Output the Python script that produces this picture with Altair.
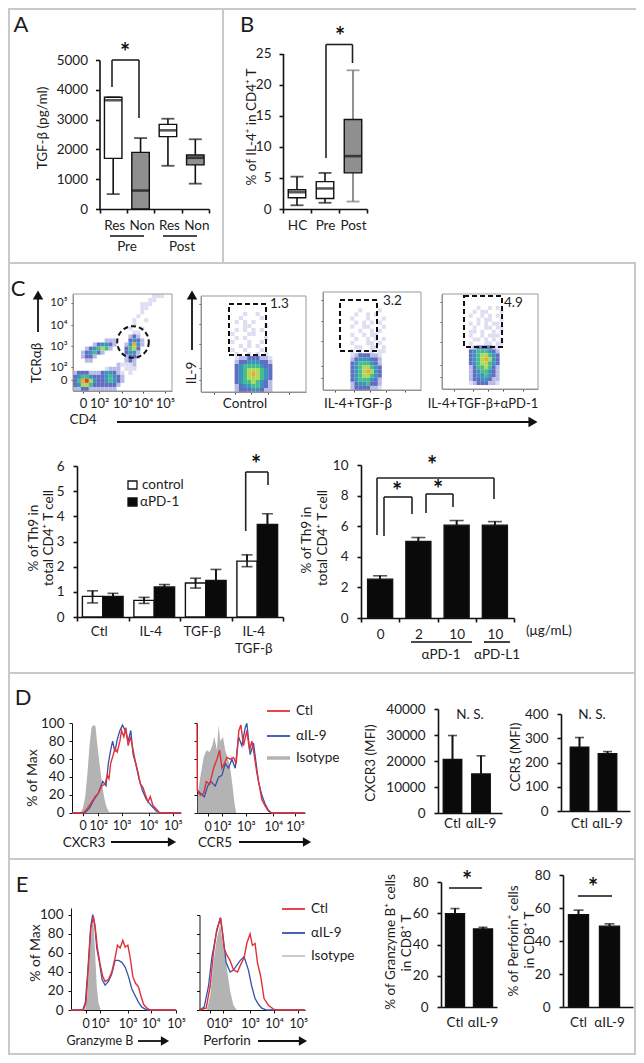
import altair as alt
import pandas as pd

W, H = 628, 1047
FONT = "Lato, 'Noto Sans', sans-serif"
INK = "#1c1c1c"
ONE = pd.DataFrame({"a": [0]})

# ---------- box plots ----------
A_CATS = ["Res", "Non", "Res ", "Non "]
A_LO = [500, 0, 1450, 850]
A_Q1 = [1700, 0, 2430, 1480]
A_MED = [3650, 620, 2640, 1720]
A_Q3 = [3750, 1900, 2840, 1810]
A_HI = [3750, 2380, 3030, 2340]
A_FILL = ["#ffffff", "#8f8f8f", "#ffffff", "#8f8f8f"]
A_WH = ["#111111", "#111111", "#111111", "#111111"]
B_CATS = ["HC", "Pre", "Post"]
B_LO = [0.6, 1.0, 1.2]
B_Q1 = [1.8, 1.7, 5.8]
B_MED = [2.7, 3.3, 8.5]
B_Q3 = [3.1, 4.4, 14.4]
B_HI = [5.2, 5.8, 22.3]
B_FILL = ["#ffffff", "#ffffff", "#8f8f8f"]
B_WH = ["#111111", "#111111", "#777777"]

# ---------- bar charts ----------
C1_CATS = ["Ctl", "IL-4", "TGF-β", "IL-4 TGF-β"]
C1_CTRL = [0.82, 0.66, 1.35, 2.22]
C1_CTRL_UP = [1.04, 0.78, 1.54, 2.47]
C1_CTRL_LOW = [0.56, 0.54, 1.15, 2.0]
C1_PD = [0.82, 1.19, 1.45, 3.68]
C1_PD_UP = [0.94, 1.29, 1.89, 4.1]
C2_CATS = ["0", "2", "10", "10 "]
C2_VAL = [2.54, 5.0, 6.07, 6.07]
C2_UP = [2.76, 5.26, 6.37, 6.3]
TWO = ["Ctl", "αIL-9"]
D1_VAL, D1_UP = [20600, 15000], [29800, 22000]
D2_VAL, D2_UP = [263, 236], [303, 245]
E1_VAL, E1_UP = [59.7, 50], [63, 51]
E2_VAL, E2_UP = [56, 49], [58.7, 50.4]

# ---------- histograms (x: channel, y: % of max) ----------
D1_ISO_X = [240, 248, 255, 262, 268, 274, 280, 286, 290, 296, 300, 306, 312, 318, 325, 330]
D1_ISO_Y = [0, 5, 18, 45, 75, 95, 98, 97, 82, 62, 50, 32, 18, 8, 2, 0]
D1_RED_X = [215, 250, 262, 275, 285, 295, 305, 315, 322, 327, 332, 340, 345, 352, 360, 365, 372, 378, 385, 392, 400, 408, 415, 422, 430, 437, 445, 452, 460, 468, 480, 545]
D1_RED_Y = [0, 0, 5, 12, 18, 22, 30, 32, 42, 38, 55, 65, 72, 68, 80, 92, 85, 95, 75, 85, 70, 55, 45, 32, 28, 20, 12, 18, 8, 5, 0, 0]
D1_BLUE_X = [215, 255, 268, 282, 295, 308, 318, 325, 332, 338, 345, 352, 360, 368, 378, 385, 393, 400, 408, 418, 428, 440, 455, 470, 480, 545]
D1_BLUE_Y = [0, 0, 5, 15, 22, 35, 30, 55, 70, 80, 68, 82, 92, 98, 90, 80, 92, 65, 55, 38, 25, 15, 8, 2, 0, 0]
D2_ISO_X = [592, 600, 610, 618, 628, 636, 642, 650, 655, 660, 668, 675, 682, 690, 697, 703, 708]
D2_ISO_Y = [20, 40, 62, 70, 68, 75, 85, 70, 98, 80, 85, 70, 62, 50, 30, 10, 0]
D2_RED_X = [590, 591, 600, 610, 618, 628, 640, 650, 658, 665, 672, 680, 690, 700, 708, 716, 722, 730, 740, 748, 755, 762, 770, 778, 785, 795, 805, 815, 915]
D2_RED_Y = [100, 25, 20, 22, 35, 32, 50, 60, 70, 50, 55, 62, 60, 62, 55, 92, 98, 75, 92, 70, 80, 65, 45, 30, 15, 8, 2, 0, 0]
D2_BLUE_X = [592, 600, 612, 622, 632, 645, 655, 665, 675, 685, 695, 705, 715, 725, 735, 740, 750, 760, 768, 775, 785, 795, 805, 815, 915]
D2_BLUE_Y = [25, 22, 18, 30, 35, 30, 40, 42, 55, 50, 60, 50, 85, 75, 95, 100, 65, 78, 55, 35, 20, 10, 3, 0, 0]
E1_ISO_X = [255, 262, 268, 274, 280, 285, 290, 295, 302]
E1_ISO_Y = [0, 15, 55, 85, 95, 60, 25, 8, 0]
E1_RED_X = [213, 250, 258, 265, 272, 280, 286, 292, 300, 308, 315, 325, 335, 345, 352, 360, 368, 375, 383, 390, 398, 406, 415, 422, 430, 440, 450, 527]
E1_RED_Y = [0, 0, 8, 45, 85, 98, 85, 65, 48, 35, 30, 32, 40, 55, 68, 65, 73, 66, 68, 55, 35, 28, 24, 15, 6, 2, 0, 0]
E1_BLUE_X = [213, 248, 256, 264, 272, 278, 284, 290, 298, 306, 315, 325, 335, 345, 355, 365, 375, 385, 395, 405, 415, 425, 440, 527]
E1_BLUE_Y = [0, 0, 8, 45, 88, 100, 90, 65, 50, 32, 26, 30, 38, 52, 52, 50, 45, 35, 22, 15, 8, 3, 0, 0]
E2_ISO_X = [620, 630, 640, 650, 660, 668, 678, 690, 700, 710]
E2_ISO_Y = [0, 15, 50, 75, 90, 70, 50, 20, 5, 0]
E2_RED_X = [598, 618, 630, 640, 650, 662, 672, 680, 690, 700, 712, 722, 732, 740, 750, 757, 765, 772, 782, 792, 805, 820, 830, 915]
E2_RED_Y = [0, 2, 25, 60, 85, 97, 65, 58, 52, 42, 40, 48, 55, 70, 80, 68, 70, 50, 35, 12, 5, 1, 0, 0]
E2_BLUE_X = [598, 612, 625, 635, 648, 660, 668, 678, 690, 700, 712, 720, 732, 745, 755, 765, 775, 785, 800, 915]
E2_BLUE_Y = [0, 3, 25, 55, 80, 97, 80, 50, 40, 42, 48, 52, 56, 42, 25, 12, 6, 2, 0, 0]
FLOW_LABELS = ["0", "10²", "10³", "10⁴", "10⁵"]

# ---------- flow density grids (digit = density level per cell; 8 = sparse speckle) ----------
LEVELS = {"8": "#dcdcf2", "1": "#b4b7e4", "2": "#5864c0", "3": "#2f8fb8", "4": "#3fb888",
          "5": "#a8d84a", "6": "#f2a02e", "7": "#e8341c"}
P1 = [
    "0000000000000000000088800", "0000000000000000000880000", "0000000000000000088800000",
    "0000000000000000088000000", "0000000000000000080000000", "0000000000000000800000000",
    "0000000000000008008000000", "0000000000000008000000000", "0000000000000080080000000",
    "0000000000000008800000000", "0000000000000012100000000", "0000000011100023210000000",
    "0000012332100136310000000", "0001234541000245200000000", "0012342100000233100000000",
    "0012210000000122100000000", "0001100000000121000000000", "0000000000018881000000000",
    "0000000081110888000000000", "1222111233218080000000000", "2344322234321000000000000",
    "2467532234321000000000000", "2355422222210000000000000", "1122111111100000000000000",
]
P2 = [
    "", "", "", "", "0000000000800800", "0000000008000080", "0000000080808000", "0000000000880008",
    "0000000080808080", "0000000800088000", "0000000080800008", "0000000800080080",
    "0000000008080800", "0000000800800080", "0000000080080808", "00000000811222118",
    "00000000122333221", "00000000234444322", "00000000234555432", "00000000234565432",
    "00000000234555432", "00000000234454321", "00000000123344321", "00000000122233211",
]
P3 = [
    "", "", "", "", "0000000008000080", "0000000080080800", "0000000800080008", "0000000080808080",
    "0000000800880008", "0000000008008080", "0000000800808800", "0000000080080808",
    "0000000800088080", "0000000088008808", "0000000808008088", "000000081222118",
    "000000012333221", "000000023444321", "000000023455432", "000000023456532",
    "000000023455432", "000000023444321", "000000012334221", "000000012222118",
]
P4 = [
    "", "", "", "0000000008008080", "0000000080880008", "0000000800808080", "0000000008088008",
    "0000000808080880", "0000000080088088", "0000000880800808", "0000000800808880",
    "0000000088080808", "0000000800088088", "000000081222218", "000000023444321",
    "000000023455432", "000000023456532", "000000023455432", "000000012445421",
    "000000012344321", "000000012334321", "000000012233211", "000000081222118", "",
]

layers = []


def cx(p):
    return p - 8


def cy(p):
    return p - 8


def xaxis(y_px, **kw):
    base = dict(orient="bottom", offset=-(H - cy(y_px)), title=None, grid=False,
                labelOverlap=False, labelPadding=4, labelAngle=0, labelFlush=False)
    base.update(kw)
    return alt.Axis(**base)


def yaxis(x_px, **kw):
    base = dict(orient="left", offset=-cx(x_px), title=None, grid=False,
                labelOverlap=False, labelPadding=8, format="d")
    base.update(kw)
    return alt.Axis(**base)


def linscale(dom, rng, ypos=False):
    f = cy if ypos else cx
    return alt.Scale(domain=list(dom), range=[f(rng[0]), f(rng[1])], nice=False, zero=False)


def band(cats, x0, x1, centers=None):
    n = len(cats)
    if centers is None:
        return alt.Scale(type="band", domain=cats, range=[cx(x0), cx(x1)], paddingInner=0, paddingOuter=0)
    s = (centers[-1] - centers[0]) / (n - 1)
    w = x1 - x0
    extra = max(w - s * n, 0.001)
    po = extra / (2 * s)
    al = min(max((centers[0] - s / 2 - x0) / extra, 0), 1)
    return alt.Scale(type="band", domain=cats, range=[cx(x0), cx(x1)], paddingInner=0, paddingOuter=po, align=al)


def T(s, x, y, size=13.5, angle=0, align="center", weight="normal", color=INK, dy=0):
    layers.append(alt.Chart(ONE).mark_text(text=s, font=FONT, fontSize=size, angle=angle, align=align,
                                           baseline="middle", fontWeight=weight, color=color, dy=dy)
                  .encode(x=alt.value(cx(x)), y=alt.value(cy(y))))


def STAR(x, y):
    T("*", x, y, size=24, weight="bold", color="#111111", dy=4)


def L(x1, y1, x2, y2, color="#111111", w=1.6, dash=None):
    kw = dict(color=color, strokeWidth=w)
    if dash:
        kw["strokeDash"] = dash
    layers.append(alt.Chart(ONE).mark_rule(**kw).encode(
        x=alt.value(cx(x1)), x2=alt.value(cx(x2)), y=alt.value(cy(y1)), y2=alt.value(cy(y2))))


def BRACKET(x1, x2, top, b1, b2, color="#222222", w=1.6):
    L(x1, top, x2, top, color, w)
    L(x1, top, x1, b1, color, w)
    L(x2, top, x2, b2, color, w)


def ARROW(x1, y1, x2, y2, shape, size=80):
    L(x1, y1, x2, y2, "#111111", 1.8)
    layers.append(alt.Chart(ONE).mark_point(shape=shape, filled=True, size=size, color="#111111", opacity=1)
                  .encode(x=alt.value(cx(x2)), y=alt.value(cy(y2))))


def boxplot(cats, lo, q1, med, q3, hi, fill, wh, xr, yr, ydom, yvals, labeloffset=0):
    df = pd.DataFrame(dict(c=cats, lo=lo, q1=q1, med=med, q3=q3, hi=hi, fill=fill, wh=wh))
    xs = band(cats, *xr)
    ys = linscale(ydom, yr, True)
    X0 = alt.X("c:N", scale=xs, axis=None)
    def Y(f):
        return alt.Y(f + ":Q", scale=ys, axis=None)
    wc = alt.Color("wh:N", scale=None)
    layers.append(alt.Chart(df).mark_rule(strokeWidth=1.6).encode(
        x=alt.X("c:N", scale=xs, axis=xaxis(yr[0], tickBand="extent", labelOffset=labeloffset, labelPadding=5)),
        y=alt.Y("lo:Q", scale=ys, axis=yaxis(xr[0], values=yvals)),
        y2="q1:Q", color=wc))
    layers.append(alt.Chart(df).mark_rule(strokeWidth=1.6).encode(x=X0, y=Y("q3"), y2="hi:Q", color=wc))
    layers.append(alt.Chart(df).mark_tick(size=13, thickness=1.8).encode(x=X0, y=Y("lo"), color=wc))
    layers.append(alt.Chart(df).mark_tick(size=13, thickness=1.8).encode(x=X0, y=Y("hi"), color=wc))
    layers.append(alt.Chart(df).mark_bar(size=17.5, stroke="#111111", strokeWidth=1.4).encode(
        x=X0, y=Y("q1"), y2="q3:Q", fill=alt.Fill("fill:N", scale=None)))
    layers.append(alt.Chart(df).mark_tick(size=17.5, thickness=2.6, color="#111111").encode(x=X0, y=Y("med")))


def bars(cats, vals, ups, xs, yr, ydom, size, capsize, fill="#0a0a0a", off=0, lows=None, xax=None, yax=None):
    df = pd.DataFrame(dict(c=cats, v=vals, u=ups))
    ys = linscale(ydom, yr, True)
    X0 = alt.X("c:N", scale=xs, axis=None)
    layers.append(alt.Chart(df).mark_rule(strokeWidth=1.6, color="#111111", xOffset=off).encode(
        x=alt.X("c:N", scale=xs, axis=xax if xax else None),
        y=alt.Y("v:Q", scale=ys, axis=yax if yax else None), y2="u:Q"))
    layers.append(alt.Chart(df).mark_bar(size=size, fill=fill, stroke="#111111", strokeWidth=1.4, xOffset=off).encode(
        x=X0, y=alt.Y("v:Q", scale=ys, axis=None, stack=None)))
    layers.append(alt.Chart(df).mark_rule(strokeWidth=1.6, color="#111111", xOffset=off).encode(
        x=X0, y=alt.Y("v:Q", scale=ys, axis=None), y2="u:Q"))
    layers.append(alt.Chart(df).mark_tick(size=capsize, thickness=1.6, color="#111111", xOffset=off).encode(
        x=X0, y=alt.Y("u:Q", scale=ys, axis=None)))
    if lows:
        ld = pd.DataFrame(dict(c=cats, v=vals, l=lows))
        layers.append(alt.Chart(ld).mark_rule(strokeWidth=1.6, color="#111111", xOffset=off).encode(
            x=X0, y=alt.Y("l:Q", scale=ys, axis=None), y2="v:Q"))
        layers.append(alt.Chart(ld).mark_tick(size=capsize, thickness=1.6, color="#111111", xOffset=off).encode(
            x=X0, y=alt.Y("l:Q", scale=ys, axis=None)))


def label_expr(vals, labels):
    expr = "'%s'" % labels[-1]
    for i in range(len(vals) - 2, -1, -1):
        mid = (vals[i] + vals[i + 1]) / 2
        expr = "datum.value<%g?'%s':%s" % (mid, labels[i], expr)
    return expr


def hist(iso, red, blue, xdom, xr, yr, ytop, xvals, ylab, redw=1.4):
    xs = linscale(xdom, xr)
    ys = linscale([0, ytop], yr, True)
    idf = pd.DataFrame(dict(x=iso[0], y=iso[1]))
    rdf = pd.DataFrame(dict(x=red[0], y=red[1]))
    bdf = pd.DataFrame(dict(x=blue[0], y=blue[1]))
    layers.append(alt.Chart(idf).mark_area(color="#b3b3b3", opacity=1).encode(
        x=alt.X("x:Q", scale=xs, axis=xaxis(yr[0], values=xvals, labelExpr=label_expr(xvals, FLOW_LABELS),
                                            domainWidth=1, tickWidth=1, tickSize=3, labelPadding=4, labelFontSize=12.5)),
        y=alt.Y("y:Q", scale=alt.Scale(domain=[0, ytop], range=[cy(yr[0]), cy(yr[1])], nice=False),
                axis=yaxis(xr[0], values=[0, 20, 40, 60, 80, 100], labels=ylab, domainWidth=1, tickWidth=1,
                           tickSize=3, labelPadding=5, labelFontSize=13.5))))
    layers.append(alt.Chart(bdf).mark_line(color="#3a50a8", strokeWidth=1.3).encode(
        x=alt.X("x:Q", scale=xs, axis=None), y=alt.Y("y:Q", scale=ys, axis=None)))
    layers.append(alt.Chart(rdf).mark_line(color="#e0313a", strokeWidth=redw).encode(
        x=alt.X("x:Q", scale=xs, axis=None), y=alt.Y("y:Q", scale=ys, axis=None)))


def flow(rows, x0, x1, y0, y1, xt, yt, labelled=False):
    recs = []
    for r, row in enumerate(rows):
        for c, ch in enumerate(row):
            if ch in LEVELS:
                recs.append(dict(c=c, c2=c + 1, r=r, r2=r + 1, col=LEVELS[ch]))
    xs = alt.Scale(domain=[0, 25], range=[cx(x0), cx(x1)], nice=False, zero=False)
    ys = alt.Scale(domain=[0, 24], range=[cy(y0), cy(y1)], nice=False, zero=False)
    xkw = dict(values=xt, tickSize=2, tickWidth=1, domainWidth=1, domainColor="#888888", tickColor="#444444")
    ykw = dict(values=yt, tickSize=2, tickWidth=1, domainWidth=1, domainColor="#888888", tickColor="#444444")
    if labelled:
        xkw.update(labelExpr=label_expr(xt, FLOW_LABELS), labelPadding=4, labelFontSize=13)
        ykw.update(labelExpr=label_expr(yt, list(reversed(FLOW_LABELS))), labelPadding=4, labelFontSize=11.5, format="")
    else:
        xkw.update(labels=False)
        ykw.update(labels=False)
    layers.append(alt.Chart(pd.DataFrame(recs)).mark_rect(opacity=0.95).encode(
        x=alt.X("c:Q", scale=xs, axis=xaxis(y1, **xkw)), x2="c2:Q",
        y=alt.Y("r:Q", scale=ys, axis=yaxis(x0, **ykw)), y2="r2:Q",
        color=alt.Color("col:N", scale=None)))
    layers.append(alt.Chart(ONE).mark_rect(fillOpacity=0, stroke="#9a9a9a", strokeWidth=1).encode(
        x=alt.value(cx(x0)), x2=alt.value(cx(x1)), y=alt.value(cy(y0)), y2=alt.value(cy(y1))))


def gate(x0, x1, y0, y1):
    layers.append(alt.Chart(ONE).mark_rect(fillOpacity=0, stroke="#111111", strokeWidth=2, strokeDash=[5, 3]).encode(
        x=alt.value(cx(x0)), x2=alt.value(cx(x1)), y=alt.value(cy(y0)), y2=alt.value(cy(y1))))


# ---------- separators and frame ----------
SEP = "#c9c9c9"
L(223, 8, 223, 263, SEP, 2)
L(8, 263, 636, 263, SEP, 2)
L(8, 673, 636, 673, SEP, 2)
L(8, 859, 636, 859, SEP, 2)
L(8, 1054, 636, 1054, SEP, 2)
L(635, 263, 635, 1054, SEP, 2)
L(9, 8, 9, 1054, SEP, 2)
L(8, 9, 636, 9, SEP, 2)

# ---------- A, B ----------
T("A", 21, 25, size=22)
T("B", 247, 25, size=22)
boxplot(A_CATS, A_LO, A_Q1, A_MED, A_Q3, A_HI, A_FILL, A_WH, (99.5, 209), (209, 60), [0, 5000],
        [0, 1000, 2000, 3000, 4000, 5000], labeloffset=1)
boxplot(B_CATS, B_LO, B_Q1, B_MED, B_Q3, B_HI, B_FILL, B_WH, (283, 367), (209, 53.5), [0, 25],
        [0, 5, 10, 15, 20, 25])
T("TGF-β  (pg/ml)", 43, 128, angle=270)
T("% of IL-4⁺ in CD4⁺ T", 252, 127, angle=270)
BRACKET(112, 139, 60, 87, 118)
STAR(125, 50)
BRACKET(326, 352.5, 44.5, 158, 63)
STAR(340, 34)
L(110, 236, 144, 236)
L(163, 236, 197, 236)
T("Pre", 127, 247)
T("Post", 182, 247)

# ---------- C flow ----------
T("C", 18, 289, size=22)
flow(P1, 73, 172, 294, 391, [2.5, 6.6, 12.4, 17.7, 23.2], [2.2, 7.7, 12.9, 18.1, 21.3], True)
flow(P2, 201, 306, 296, 392, [3, 8, 12, 16, 21], [2, 7, 12, 18, 21])
flow(P3, 323, 421, 292, 390, [3, 8, 12, 16, 21], [2, 7, 12, 18, 21])
flow(P4, 442, 538, 294, 389, [3, 8, 12, 16, 21], [2, 7, 12, 18, 21])
layers.append(alt.Chart(ONE).mark_point(shape="circle", size=1000, stroke="#111111", strokeWidth=2,
                                        strokeDash=[5, 3], fillOpacity=0, opacity=1)
              .encode(x=alt.value(cx(133)), y=alt.value(cy(342))))
gate(229, 266, 304, 355)
gate(340, 377, 300, 351)
gate(464, 502, 296, 347)
T("1.3", 270, 304, align="left")
T("3.2", 383, 301, align="left")
T("4.9", 504, 303, align="left")
T("TCRαβ", 37, 363, angle=270)
T("IL-9", 192, 373, angle=270)
T("CD4", 83, 420)
T("Control", 245, 404)
T("IL-4+TGF-β", 358, 404)
T("IL-4+TGF-β+αPD-1", 483, 404, size=13)
ARROW(38, 332, 38, 295, "triangle-up", 110)
ARROW(192, 350, 192, 295, "triangle-up", 110)
ARROW(117, 422, 533, 422, "triangle-right", 110)

# ---------- C bars ----------
c1x = band(C1_CATS, 77, 283)
bars(C1_CATS, C1_CTRL, C1_CTRL_UP, c1x, (617, 466), [0, 6], 20.3, 11, fill="#ffffff", off=-10.2, lows=C1_CTRL_LOW,
     xax=xaxis(617, tickBand="extent", labelOffset=-4, labelExpr="split(datum.label,' ')", labelLineHeight=17, labelPadding=3),
     yax=yaxis(77, values=[0, 1, 2, 3, 4, 5, 6], labelPadding=9))
bars(C1_CATS, C1_PD, C1_PD_UP, c1x, (617, 466), [0, 6], 20.3, 11, off=10.2)
T("% of Th9 in", 34, 538, angle=270)
T("total CD4⁺ T cell", 49, 538, angle=270)
layers.append(alt.Chart(ONE).mark_rect(fill="#ffffff", stroke="#111111", strokeWidth=1.3).encode(
    x=alt.value(cx(128)), x2=alt.value(cx(137)), y=alt.value(cy(481)), y2=alt.value(cy(489))))
layers.append(alt.Chart(ONE).mark_rect(fill="#0a0a0a", stroke="#111111", strokeWidth=1.3).encode(
    x=alt.value(cx(128)), x2=alt.value(cx(137)), y=alt.value(cy(498)), y2=alt.value(cy(506))))
T("control", 142, 485, align="left")
T("αPD-1", 140, 502, align="left")
BRACKET(245.7, 268, 472, 531, 485)
STAR(256, 462)

bars(C2_CATS, C2_VAL, C2_UP, band(C2_CATS, 361, 514), (618, 465), [0, 10], 25, 14,
     xax=xaxis(618, tickBand="extent", labelPadding=5),
     yax=yaxis(361, values=[0, 2, 4, 6, 8, 10], labelPadding=9))
T("% of Th9 in", 307, 540, angle=270)
T("total CD4⁺ T cell", 323, 538, angle=270)
T("(μg/mL)", 549, 631)
L(411, 642, 472, 642)
L(484, 642, 510, 642)
T("αPD-1", 441, 655)
T("αPD-L1", 497, 655)
BRACKET(377, 494, 478, 535, 499)
STAR(432, 463)
BRACKET(384, 412, 497, 536, 514)
STAR(397, 489)
BRACKET(426, 453, 494, 513, 507)
STAR(438, 487)

# ---------- D ----------
T("D", 23, 698, size=22)
hist((D1_ISO_X, D1_ISO_Y), (D1_RED_X, D1_RED_Y), (D1_BLUE_X, D1_BLUE_Y), (215, 545), (72, 181), (812.7, 723.3), 100,
     [247, 295, 365, 447, 520], True)
hist((D2_ISO_X, D2_ISO_Y), (D2_RED_X, D2_RED_Y), (D2_BLUE_X, D2_BLUE_Y), (590, 915), (197, 305), (813, 723.3), 100,
     [622, 665, 737, 820, 885], False)
T("% of Max", 33, 778, angle=270, size=14)
L(267, 711, 290, 711, "#e0313a", 1.8)
L(267, 736, 290, 736, "#3a50a8", 1.8)
L(267, 758, 290, 758, "#b3b3b3", 3.5)
T("Ctl", 296, 711, align="left")
T("αIL-9", 296, 736, align="left")
T("Isotype", 296, 758, align="left")
T("CXCR3", 84, 843)
T("CCR5", 215, 843)
ARROW(111, 842, 172, 842, "triangle-right", 90)
ARROW(239, 842, 307, 842, "triangle-right", 90)

bars(TWO, D1_VAL, D1_UP, band(TWO, 438, 502, [452.5, 481]), (813, 709), [0, 40000], 18.5, 9,
     xax=xaxis(813, ticks=False, labelPadding=3),
     yax=yaxis(438, values=[0, 10000, 20000, 30000, 40000], labelPadding=9))
T("CXCR3 (MFI)", 371, 763, angle=270)
T("N. S.", 470, 715)
bars(TWO, D2_VAL, D2_UP, band(TWO, 561, 630, [579.5, 607.5]), (811, 714), [0, 400], 18.5, 9,
     xax=xaxis(811, ticks=False, labelPadding=5),
     yax=yaxis(561, values=[0, 100, 200, 300, 400], labelPadding=9))
T("CCR5 (MFI)", 516, 757, angle=270)
T("N. S.", 592, 715)

# ---------- E ----------
T("E", 22, 885, size=22)
hist((E1_ISO_X, E1_ISO_Y), (E1_RED_X, E1_RED_Y), (E1_BLUE_X, E1_BLUE_Y), (213, 527), (71, 176), (1010, 908), 107,
     [257, 300, 382, 452, 527], True)
hist((E2_ISO_X, E2_ISO_Y), (E2_RED_X, E2_RED_Y), (E2_BLUE_X, E2_BLUE_Y), (598, 915), (199.5, 305), (1010, 915), 100,
     [630, 668, 750, 822, 895], False)
T("% of Max", 36, 953, angle=270, size=14)
L(282, 909, 305, 909, "#e0313a", 1.8)
L(282, 933, 305, 933, "#3a50a8", 1.8)
L(282, 956, 305, 956, "#a8a8a8", 1.2)
T("Ctl", 311, 909, align="left")
T("αIL-9", 311, 933, align="left")
T("Isotype", 311, 956, align="left")
T("Granzyme B", 100, 1041, size=12.5)
T("Perforin", 227, 1041)
ARROW(138, 1041, 165, 1041, "triangle-right", 90)
ARROW(258, 1041, 303, 1041, "triangle-right", 90)

bars(TWO, E1_VAL, E1_UP, band(TWO, 441, 497, [454.5, 482.5]), (1007, 882), [0, 80], 19, 9,
     xax=xaxis(1007, ticks=False, labelPadding=8),
     yax=yaxis(441, values=[0, 20, 40, 60, 80], labelPadding=9))
T("% of Granzyme B⁺ cells", 391, 942, angle=270)
T("in CD8⁺ T", 407, 943, angle=270)
L(449, 888, 482, 888)
STAR(467, 878)
bars(TWO, E2_VAL, E2_UP, band(TWO, 563, 633, [578.5, 609.5]), (1007, 875), [0, 80], 20, 10,
     xax=xaxis(1007, ticks=False, labelPadding=8),
     yax=yaxis(563, values=[0, 20, 40, 60, 80], labelPadding=9))
T("% of Perforin⁺ cells", 514, 941, angle=270)
T("in CD8⁺ T", 530, 940, angle=270)
L(578, 896, 612, 896)
STAR(593, 885)

chart = (
    alt.layer(*layers)
    .resolve_scale(x="independent", y="independent", color="independent", fill="independent")
    .resolve_axis(x="independent", y="independent")
    .properties(width=W, height=H, padding=0, autosize=alt.AutoSizeParams(type="none"))
    .configure_view(stroke=None)
    .configure_axis(labelFont=FONT, labelFontSize=13.5, labelColor=INK, domainColor="#111111", tickColor="#111111",
                    domainWidth=1.6, tickWidth=1.6, tickSize=4)
)
chart.save("out.html", embed_options={"renderer": "svg", "actions": False})
